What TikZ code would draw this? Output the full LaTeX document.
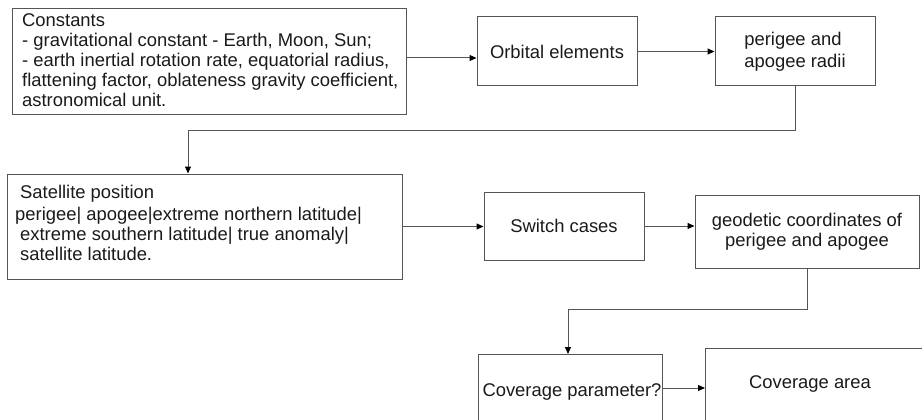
\documentclass[tikz,border=0pt]{standalone}
\usepackage{fontspec}
\setmainfont{Liberation Sans}[Ligatures=NoCommon]
\usetikzlibrary{arrows.meta}
\definecolor{linegray}{HTML}{555555}
\definecolor{inkdark}{HTML}{1A1A1A}

\begin{document}
\begin{tikzpicture}[x=1pt,y=-1pt,
  box/.style={draw=linegray, line width=1pt, rectangle, inner sep=0pt,
    font=\fontsize{18.4}{20}\selectfont, text=inkdark},
  txt/.style={inner sep=0pt, font=\fontsize{18.4}{20}\selectfont, text=inkdark},
  link/.style={draw=linegray, line width=1pt},
  arr/.style={link, -{Triangle[length=7pt,width=6pt,color=black]}}]

\useasboundingbox (0,0) rectangle (922,420);

% --- first row -------------------------------------------------------
\node[box, minimum width=394pt, minimum height=106pt] (const) at (209,62) {};
\node[txt, anchor=north west, align=left] (constt) at (22,13)
  {Constants\\
   - gravitational constant - Earth, Moon, Sun;\\
   - earth inertial rotation rate, equatorial radius,\\
   flattening factor, oblateness gravity coefficient,\\
   astronomical unit.};

\node[box, minimum width=160pt, minimum height=69pt] (orb) at (557,51.5)
  {Orbital elements};
\node[box, minimum width=160pt, minimum height=69pt, align=left,
  font=\fontsize{18.4}{22}\selectfont] (peri) at (795,51.5)
  {perigee and\\apogee radii};

% --- second row ------------------------------------------------------
\node[box, minimum width=395pt, minimum height=105pt] (sat) at (204.5,226.5) {};
\node[txt, anchor=north west, align=left] (satt) at (15,185)
  {\hspace*{5pt}Satellite position\\[2pt]
   perigee| apogee|extreme northern latitude|\\
   \hspace*{5pt}extreme southern latitude| true anomaly|\\
   \hspace*{5pt}satellite latitude.};

\node[box, minimum width=160pt, minimum height=68pt] (sw) at (564,226)
  {Switch cases};
\node[box, minimum width=224pt, minimum height=73pt, align=center] (geo) at (807,231.5)
  {geodetic coordinates of\\perigee and apogee};

% --- third row: both boxes run on past the page edges ----------------
\draw[link] (478,421) |- (662,354) -- (662,421);
\coordinate (covp) at (570,354);
\node[txt] (covpt) at (572,392) {Coverage parameter?};
\draw[link] (705,421) |- (922,348);
\coordinate (cova) at (705,388);
\node[txt] (covat) at (810,384) {Coverage area};

% --- connectors ------------------------------------------------------
\coordinate (a1) at ([yshift=4pt]const.east);
\draw[arr] (a1) -- (a1 -| orb.west);
\draw[arr] (orb.east) -- (orb.east -| peri.west);

\coordinate (b1) at (188,130);
\draw[arr] (peri.south) |- (b1) -- (b1 |- sat.north);

\draw[arr] (sat.east) -- (sat.east -| sw.west);
\draw[arr] (sw.east) -- (sw.east -| geo.west);

\coordinate (b2) at (568,309);
\draw[arr] (geo.south) |- (b2) -- (b2 |- covp);

\coordinate (b3) at (662,388);
\draw[arr] (b3) -- (cova);
\end{tikzpicture}
\end{document}
